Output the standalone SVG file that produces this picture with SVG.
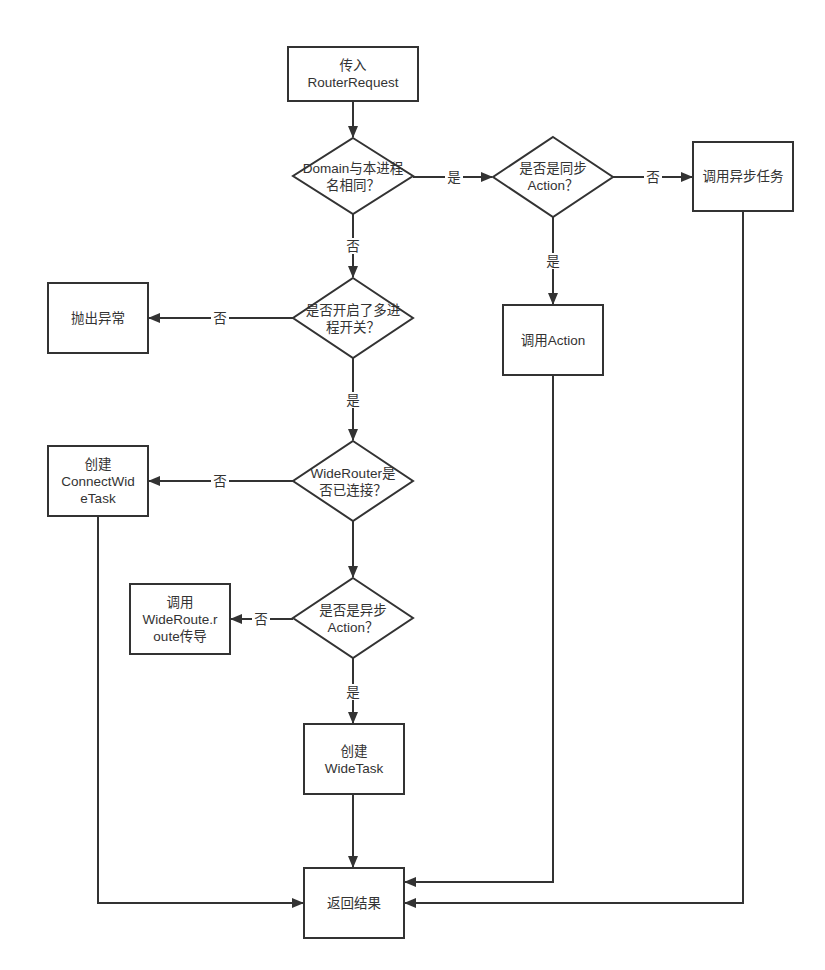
<svg xmlns="http://www.w3.org/2000/svg" width="825" height="970" viewBox="0 0 825 970">
<defs>
<marker id="ah" markerWidth="12" markerHeight="10" refX="11" refY="5" orient="auto" markerUnits="userSpaceOnUse" viewBox="0 0 12 10">
<path d="M0,0 L12,5 L0,10 Z" fill="#333"/>
</marker>
<style>
.n{fill:#fff;stroke:#333;stroke-width:2}
.t{font-family:"Liberation Sans","Noto Sans CJK SC",sans-serif;font-size:13.5px;fill:#333;text-anchor:middle}
.e{fill:none;stroke:#333;stroke-width:2;marker-end:url(#ah)}
.lb{fill:#fff}
</style>
</defs>
<rect width="825" height="970" fill="#fff"/>
<g id="connectors">
<path class="e" d="M353,101 V137"/>
<path class="e" d="M413,177 H492"/>
<path class="e" d="M613,177 H692"/>
<path class="e" d="M553,217 V304"/>
<path class="e" d="M353,214 V277"/>
<path class="e" d="M293,318 H149"/>
<path class="e" d="M353,358 V440"/>
<path class="e" d="M293,481 H149"/>
<path class="e" d="M353,521 V577"/>
<path class="e" d="M293,619 H231"/>
<path class="e" d="M353,658 V723"/>
<path class="e" d="M353,794 V867"/>
<path class="e" d="M98,516 V903 H303"/>
<path class="e" d="M553,375 V882 H405"/>
<path class="e" d="M743,211 V903 H405"/>
<rect class="lb" x="445" y="169" width="18" height="16"/>
<text class="t" x="454" y="182">是</text>
<rect class="lb" x="644" y="169" width="18" height="16"/>
<text class="t" x="653" y="182">否</text>
<rect class="lb" x="544" y="253" width="18" height="16"/>
<text class="t" x="553" y="266">是</text>
<rect class="lb" x="344" y="238" width="18" height="16"/>
<text class="t" x="353" y="251">否</text>
<rect class="lb" x="211" y="310" width="18" height="16"/>
<text class="t" x="220" y="323">否</text>
<rect class="lb" x="344" y="392" width="18" height="16"/>
<text class="t" x="353" y="405">是</text>
<rect class="lb" x="211" y="473" width="18" height="16"/>
<text class="t" x="220" y="486">否</text>
<rect class="lb" x="252" y="611" width="18" height="16"/>
<text class="t" x="261" y="624">否</text>
<rect class="lb" x="344" y="684" width="18" height="16"/>
<text class="t" x="353" y="697">是</text>
</g>
<g id="start">
<rect class="n" x="288" y="47" width="130" height="54"/>
<text class="t" x="353" y="70">传入</text>
<text class="t" x="353" y="87">RouterRequest</text>
</g>
<g id="d1">
<path class="n" d="M353,138 L413,176 L353,214 L293,176 Z"/>
<text class="t" x="353" y="173">Domain与本进程</text>
<text class="t" x="353" y="190">名相同？</text>
</g>
<g id="d2">
<path class="n" d="M553,137 L613,177 L553,217 L493,177 Z"/>
<text class="t" x="553" y="173">是否是同步</text>
<text class="t" x="553" y="190">Action？</text>
</g>
<g id="async">
<rect class="n" x="693" y="142" width="100" height="69"/>
<text class="t" x="743" y="181">调用异步任务</text>
</g>
<g id="callAction">
<rect class="n" x="503" y="305" width="100" height="70"/>
<text class="t" x="553" y="345">调用Action</text>
</g>
<g id="d3">
<path class="n" d="M353,278 L413,318 L353,358 L293,318 Z"/>
<text class="t" x="353" y="315">是否开启了多进</text>
<text class="t" x="353" y="332">程开关？</text>
</g>
<g id="throw">
<rect class="n" x="48" y="283" width="100" height="70"/>
<text class="t" x="98" y="323">抛出异常</text>
</g>
<g id="d4">
<path class="n" d="M353,441 L413,481 L353,521 L293,481 Z"/>
<text class="t" x="353" y="478">WideRouter是</text>
<text class="t" x="353" y="495">否已连接？</text>
</g>
<g id="connectTask">
<rect class="n" x="48" y="446" width="100" height="70"/>
<text class="t" x="98" y="469">创建</text>
<text class="t" x="98" y="486">ConnectWid</text>
<text class="t" x="98" y="503">eTask</text>
</g>
<g id="d5">
<path class="n" d="M353,578 L413,618 L353,658 L293,618 Z"/>
<text class="t" x="353" y="615">是否是异步</text>
<text class="t" x="353" y="632">Action？</text>
</g>
<g id="wideRoute">
<rect class="n" x="130" y="584" width="100" height="70"/>
<text class="t" x="180" y="607">调用</text>
<text class="t" x="180" y="624">WideRoute.r</text>
<text class="t" x="180" y="641">oute传导</text>
</g>
<g id="wideTask">
<rect class="n" x="304" y="724" width="100" height="70"/>
<text class="t" x="354" y="756">创建</text>
<text class="t" x="354" y="773">WideTask</text>
</g>
<g id="result">
<rect class="n" x="304" y="868" width="100" height="70"/>
<text class="t" x="354" y="908">返回结果</text>
</g>
</svg>
